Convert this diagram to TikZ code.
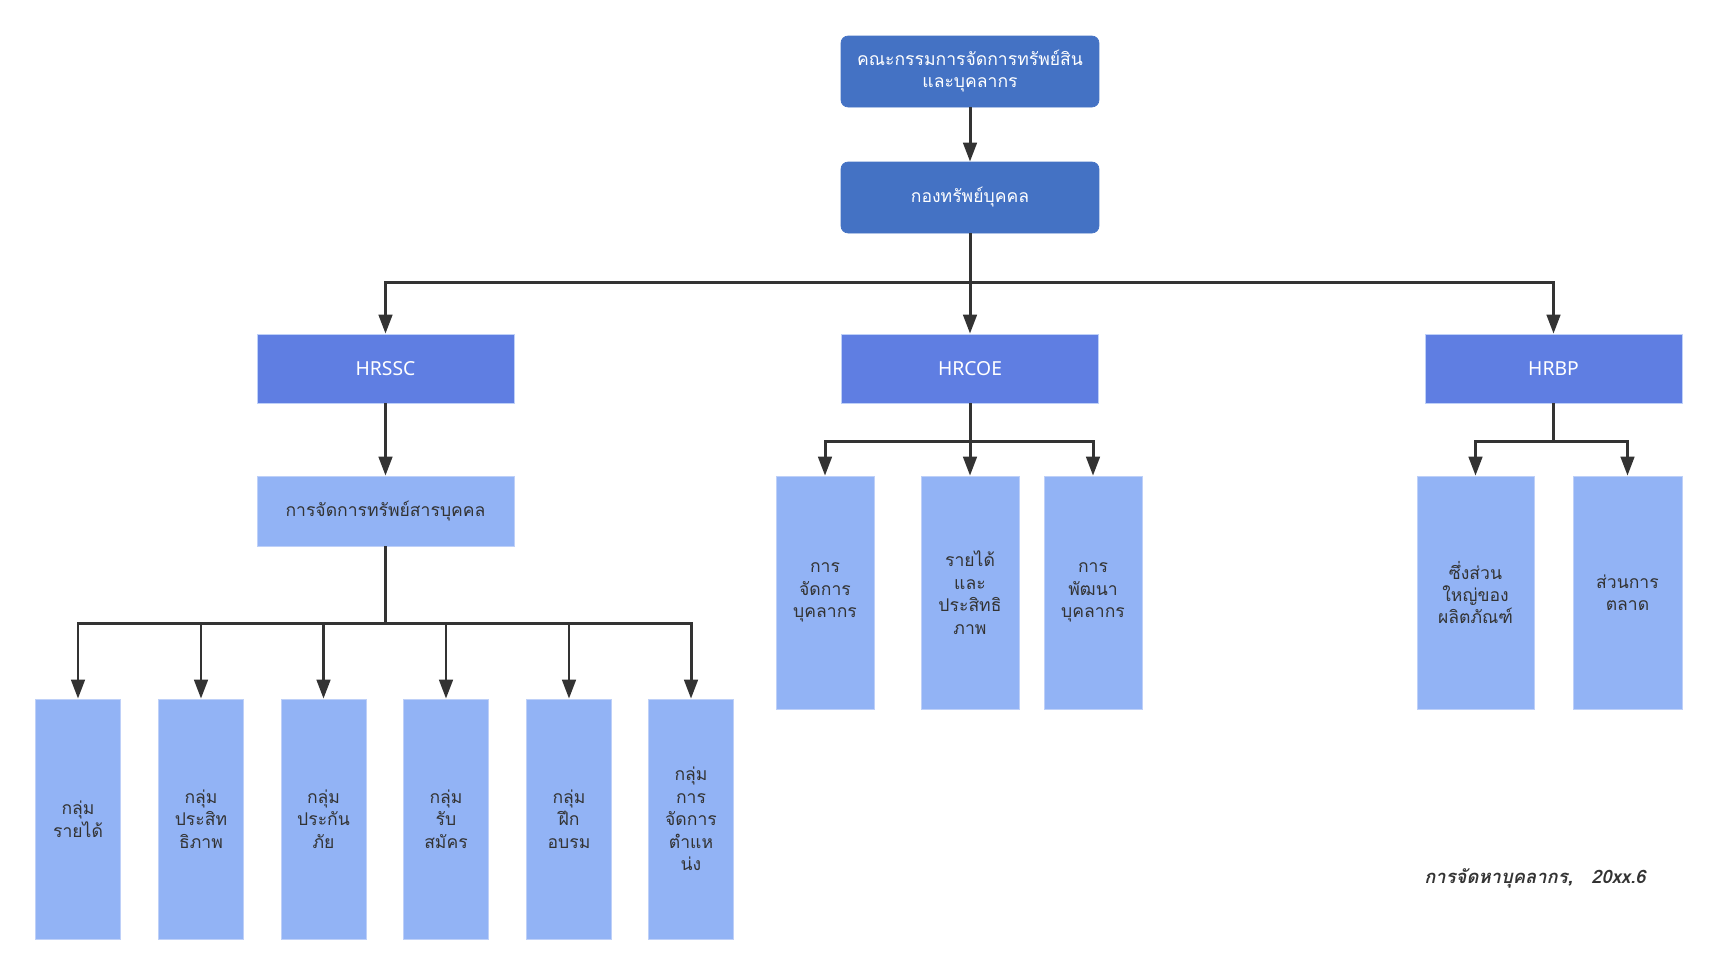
\documentclass[tikz,border=0pt]{standalone}
\usepackage{fontspec}
\setmainfont{Noto Sans}
\newfontfamily\thaifont[Script=Thai]{Loma}
\usepackage{xcolor}
\definecolor{orgdark}{RGB}{68,114,196}
\definecolor{orgmid}{RGB}{95,126,226}
\definecolor{orglight}{RGB}{146,179,245}
\definecolor{orgedge}{RGB}{190,208,248}
\definecolor{orgtext}{RGB}{51,51,51}
\usetikzlibrary{arrows.meta}

\tikzset{
  topbox/.style={fill=orgdark, draw=orgdark, rounded corners=4pt, text=white,
    inner sep=0pt, minimum width=5.16cm, minimum height=1.42cm, align=center,
    font=\thaifont\fontsize{10}{12.5}\selectfont},
  hrbox/.style={fill=orgmid, draw=orgedge, line width=0.4pt, text=white,
    inner sep=0pt, minimum width=5.14cm, minimum height=1.38cm,
    font=\fontsize{11}{13}\selectfont},
  leafbox/.style={fill=orglight, draw=orgedge, line width=0.4pt, text=orgtext,
    inner sep=0pt, align=center, font=\thaifont\fontsize{10}{12.8}\selectfont},
  conn/.style={draw=orgtext, line width=1.7pt,
    -{Triangle[length=0.38cm, width=0.27cm]}},
}

\begin{document}
\begin{tikzpicture}[x=0.02cm, y=-0.02cm]
  \useasboundingbox (0,0) rectangle (1728,975);

  % Top levels
  \node[topbox] (board) at (970,71.5) {คณะกรรมการจัดการทรัพย์สิน\\และบุคลากร};
  \node[topbox] (hrdiv) at (970,197.5) {กองทรัพย์บุคคล};

  % HR units
  \node[hrbox] (hrssc) at (385.5,368.5) {HRSSC};
  \node[hrbox] (hrcoe) at (970,368.5) {HRCOE};
  \node[hrbox] (hrbp) at (1553.5,368.5) {HRBP};

  % HRSSC branch
  \node[leafbox, minimum width=5.14cm, minimum height=1.4cm] (hrrec) at (385.5,511) {การจัดการทรัพย์สารบุคคล};
  \node[leafbox, minimum width=1.7cm, minimum height=4.8cm] (grp1) at (78,819) {กลุ่ม\\รายได้};
  \node[leafbox, minimum width=1.7cm, minimum height=4.8cm] (grp2) at (201,819) {กลุ่ม\\ประสิท\\ธิภาพ};
  \node[leafbox, minimum width=1.7cm, minimum height=4.8cm] (grp3) at (323.5,819) {กลุ่ม\\ประกัน\\ภัย};
  \node[leafbox, minimum width=1.7cm, minimum height=4.8cm] (grp4) at (446,819) {กลุ่ม\\รับ\\สมัคร};
  \node[leafbox, minimum width=1.7cm, minimum height=4.8cm] (grp5) at (569,819) {กลุ่ม\\ฝึก\\อบรม};
  \node[leafbox, minimum width=1.7cm, minimum height=4.8cm] (grp6) at (691,819) {กลุ่ม\\การ\\จัดการ\\ตำแห\\น่ง};

  % HRCOE branch
  \node[leafbox, minimum width=1.96cm, minimum height=4.66cm] (coe1) at (825,592.5) {การ\\จัดการ\\บุคลากร};
  \node[leafbox, minimum width=1.96cm, minimum height=4.66cm] (coe2) at (970,592.5) {รายได้\\และ\\ประสิทธิ\\ภาพ};
  \node[leafbox, minimum width=1.96cm, minimum height=4.66cm] (coe3) at (1093,592.5) {การ\\พัฒนา\\บุคลากร};

  % HRBP branch
  \node[leafbox, minimum width=2.34cm, minimum height=4.66cm] (bp1) at (1475.5,592.5) {ซึ่งส่วน\\ใหญ่ของ\\ผลิตภัณฑ์};
  \node[leafbox, minimum width=2.18cm, minimum height=4.66cm] (bp2) at (1627.5,592.5) {ส่วนการ\\ตลาด};

  % Bus points
  \coordinate (bustop) at (970,282);
  \coordinate (buscoe) at (970,441);
  \coordinate (busbp) at (1553.5,441);
  \coordinate (busrec) at (385.5,623);

  % Connectors
  \draw[conn] (board.south) -- (hrdiv.north);
  \draw[conn] (hrdiv.south) -- (bustop) -| (hrssc.north);
  \draw[conn] (bustop) -- (hrcoe.north);
  \draw[conn] (bustop) -| (hrbp.north);
  \draw[conn] (hrssc.south) -- (hrrec.north);
  \draw[line width=1.7pt, orgtext] (hrrec.south) -- (busrec);
  \foreach \g in {grp1,grp2,grp3,grp4,grp5,grp6}
    \draw[conn] (busrec) -| (\g.north);
  \draw[line width=1.7pt, orgtext] (hrcoe.south) -- (buscoe);
  \foreach \g in {coe1,coe2,coe3}
    \draw[conn] (buscoe) -| (\g.north);
  \draw[line width=1.7pt, orgtext] (hrbp.south) -- (busbp);
  \foreach \g in {bp1,bp2}
    \draw[conn] (busbp) -| (\g.north);

  % Footnote
  \node[text=orgtext, font=\thaifont\bfseries\itshape\fontsize{10.5}{13}\selectfont] (note) at (1535,878) {การจัดหาบุคลากร,\quad 20xx.6};
\end{tikzpicture}
\end{document}
